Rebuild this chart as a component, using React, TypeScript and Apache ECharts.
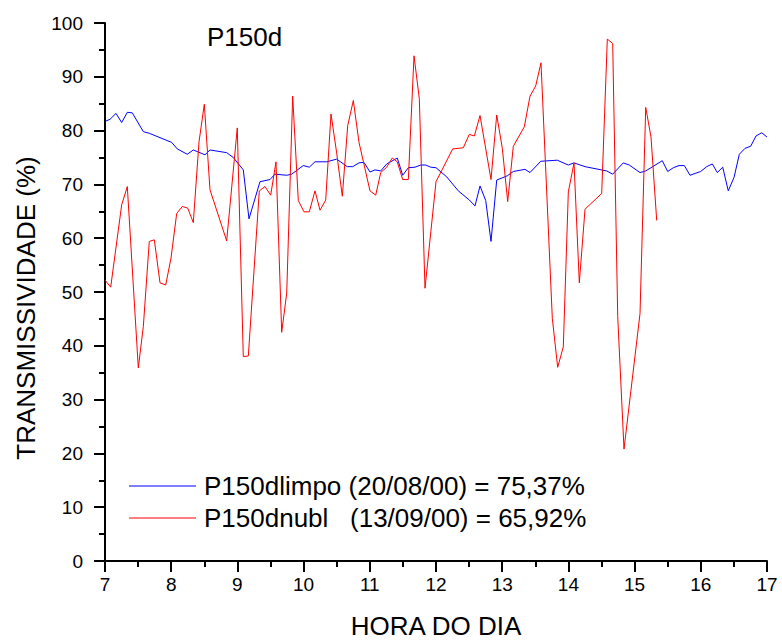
import React, { useEffect, useRef } from "react";
import * as echarts from "echarts";

const limpoHours = [7.0, 7.076, 7.166, 7.252, 7.337, 7.412, 7.579, 7.669, 8.008, 8.092, 8.243, 8.334, 8.511, 8.586, 8.838, 8.938, 9.089, 9.175, 9.341, 9.492, 9.568, 9.745, 9.82, 9.995, 10.086, 10.172, 10.349, 10.5, 10.66, 10.742, 10.837, 10.912, 11.003, 11.079, 11.165, 11.255, 11.415, 11.497, 11.582, 11.683, 11.769, 11.844, 11.92, 12.0, 12.162, 12.337, 12.503, 12.589, 12.665, 12.751, 12.831, 12.917, 13.077, 13.168, 13.344, 13.42, 13.582, 13.832, 13.999, 14.085, 14.251, 14.579, 14.669, 14.829, 14.92, 15.082, 15.168, 15.418, 15.5, 15.585, 15.671, 15.751, 15.837, 15.998, 16.089, 16.174, 16.249, 16.331, 16.415, 16.502, 16.582, 16.668, 16.754, 16.834, 16.92, 17.0];
const limpoValues = [81.7, 82.1, 83.2, 81.5, 83.4, 83.3, 79.8, 79.5, 77.8, 76.6, 75.6, 76.4, 75.5, 76.4, 75.9, 75.0, 72.7, 63.6, 70.5, 70.9, 71.9, 71.7, 71.9, 73.5, 73.2, 74.2, 74.2, 74.7, 73.3, 73.3, 74.0, 74.1, 72.3, 72.7, 72.5, 73.8, 74.9, 71.7, 73.1, 73.2, 73.6, 73.6, 73.2, 73.1, 71.4, 68.8, 67.1, 66.0, 69.7, 67.0, 59.4, 70.8, 71.6, 72.4, 72.8, 72.2, 74.3, 74.5, 73.6, 74.0, 73.3, 72.5, 71.9, 74.0, 73.6, 72.2, 72.5, 74.4, 72.4, 73.1, 73.5, 73.5, 71.7, 72.4, 73.3, 73.8, 72.2, 73.2, 68.8, 71.3, 75.6, 76.7, 77.1, 79.0, 79.6, 78.8];

const nublHours = [7.0, 7.086, 7.252, 7.337, 7.503, 7.579, 7.669, 7.745, 7.831, 7.917, 7.997, 8.083, 8.168, 8.249, 8.334, 8.42, 8.5, 8.586, 8.838, 8.998, 9.089, 9.165, 9.331, 9.417, 9.503, 9.583, 9.669, 9.745, 9.835, 9.92, 10.006, 10.086, 10.172, 10.248, 10.334, 10.414, 10.5, 10.585, 10.666, 10.751, 10.837, 11.003, 11.089, 11.165, 11.255, 11.34, 11.415, 11.497, 11.582, 11.668, 11.748, 11.834, 12.0, 12.252, 12.412, 12.503, 12.579, 12.665, 12.831, 12.917, 13.002, 13.083, 13.168, 13.334, 13.42, 13.506, 13.586, 13.757, 13.838, 13.923, 13.999, 14.085, 14.165, 14.251, 14.503, 14.588, 14.669, 14.745, 14.84, 15.082, 15.168, 15.248, 15.334];
const nublValues = [52.2, 50.9, 66.2, 69.6, 35.9, 43.6, 59.4, 59.7, 51.7, 51.3, 56.3, 64.6, 65.9, 65.6, 62.9, 77.9, 84.9, 69.0, 59.5, 80.5, 38.0, 38.1, 68.8, 69.6, 68.0, 74.2, 42.5, 49.8, 86.4, 67.0, 64.9, 64.9, 68.8, 65.2, 67.1, 83.1, 75.8, 67.8, 80.9, 85.6, 77.8, 68.8, 68.0, 72.2, 73.2, 74.9, 74.2, 70.9, 70.9, 93.9, 85.9, 50.7, 70.5, 76.6, 76.8, 79.3, 79.0, 82.8, 70.9, 82.9, 76.7, 66.8, 77.1, 80.7, 86.4, 88.3, 92.6, 45.1, 36.0, 39.8, 68.6, 74.0, 51.7, 65.4, 68.3, 97.0, 96.2, 45.4, 20.8, 46.0, 84.3, 78.8, 63.3];

const seriesNames = ["P150dlimpo (20/08/00) = 75,37%", "P150dnubl   (13/09/00) = 65,92%"];
const chartLabel = "P150d";
const xTitle = "HORA DO DIA";
const yTitle = "TRANSMISSIVIDADE (%)";

const FONT = "'Liberation Sans', Arial, sans-serif";

export default function App() {
  const ref = useRef<HTMLDivElement>(null);
  useEffect(() => {
    if (!ref.current) return;
    const chart = echarts.init(ref.current, null, { renderer: "svg" });
    const axisCommon = {
      axisLine: { show: true, lineStyle: { color: "#000", width: 2 } },
      axisTick: { show: true, inside: false, length: 11, lineStyle: { color: "#000", width: 2 } },
      minorTick: { show: true, splitNumber: 2, length: 6, lineStyle: { color: "#000", width: 2 } },
      splitLine: { show: false },
      axisLabel: { color: "#000", fontSize: 19, fontFamily: FONT },
    };
    chart.setOption({
      animation: false,
      backgroundColor: "#fff",
      grid: { left: 105, right: 15, top: 23, bottom: 80, containLabel: false, outerBoundsMode: "none" },
      xAxis: {
        type: "value",
        min: 7,
        max: 17,
        interval: 1,
        name: xTitle,
        nameLocation: "middle",
        nameGap: 52,
        nameTextStyle: { color: "#000", fontSize: 26, fontFamily: FONT },
        ...axisCommon,
        axisLabel: { ...axisCommon.axisLabel, margin: 14 },
      },
      yAxis: {
        type: "value",
        min: 0,
        max: 100,
        interval: 10,
        ...axisCommon,
        axisLabel: { ...axisCommon.axisLabel, margin: 22 },
      },
      legend: {
        orient: "vertical",
        left: 129,
        top: 473,
        padding: 0,
        itemGap: 6,
        itemWidth: 67,
        itemHeight: 1,
        icon: "rect",
        selectedMode: false,
        textStyle: { color: "#000", fontSize: 26, fontFamily: FONT, padding: [0, 0, 0, 3] },
        data: seriesNames,
      },
      graphic: [
        {
          type: "text",
          left: 207,
          top: 24,
          style: { text: chartLabel, fontSize: 26, fontFamily: FONT, fill: "#000" },
        },
        {
          type: "text",
          x: 26,
          y: 308,
          rotation: Math.PI / 2,
          style: {
            text: yTitle,
            fontSize: 26,
            fontFamily: FONT,
            fill: "#000",
            align: "center",
            verticalAlign: "middle",
          },
        },
      ],
      series: [
        {
          name: seriesNames[0],
          type: "line",
          symbol: "none",
          showSymbol: false,
          lineStyle: { color: "#0000ff", width: 1 },
          itemStyle: { color: "#0000ff" },
          data: limpoHours.map((h, i) => [h, limpoValues[i]]),
        },
        {
          name: seriesNames[1],
          type: "line",
          symbol: "none",
          showSymbol: false,
          lineStyle: { color: "#ff0000", width: 1 },
          itemStyle: { color: "#ff0000" },
          data: nublHours.map((h, i) => [h, nublValues[i]]),
        },
      ],
    });
    return () => chart.dispose();
  }, []);
  return <div ref={ref} style={{ width: 782, height: 641, position: "absolute", left: 0, top: 0 }} />;
}
